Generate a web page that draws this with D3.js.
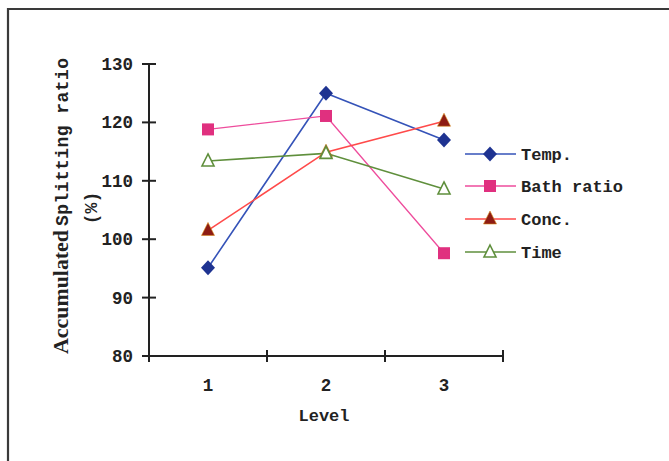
<!DOCTYPE html>
<html><head><meta charset="utf-8">
<script src="https://cdn.jsdelivr.net/npm/d3@7"></script>
<style>
body{margin:0;background:#fff;}
text{font-family:"Liberation Mono",monospace;font-weight:bold;fill:#222;}
</style></head>
<body><svg id="c" width="669" height="461"></svg>
<script>
const levels = ["1","2","3"];
const seriesNames = ["Temp.","Bath ratio","Conc.","Time"];
const temp = [95.1, 125.0, 117.0];
const bath = [118.8, 121.1, 97.6];
const conc = [101.5, 114.9, 120.2];
const time = [113.4, 114.7, 108.6];
const yTicks = [80, 90, 100, 110, 120, 130];
const colors = {line:["#3553b8","#ee4c9c","#ff4a4a","#5f8f3c"], mark:["#1e3391","#e0307f","#8e1c14","#5f8f3c"]};
const shapes = ["diamond","square","triangle","triangleOpen"];
const values = [temp, bath, conc, time];

const svg = d3.select("#c");
svg.append("rect").attr("width",669).attr("height",461).attr("fill","#fff");
svg.append("path").attr("d","M8,461V9H669").attr("fill","none").attr("stroke","#3a3a3a").attr("stroke-width",2.2);

const x = d3.scaleBand().domain(levels).range([149,503]).padding(0);
const y = d3.scaleLinear().domain([80,130]).range([356,64]);
const g = svg.append("g");

// y axis
g.append("line").attr("x1",149).attr("x2",149).attr("y1",y(130)).attr("y2",y(80)).attr("stroke","#222").attr("stroke-width",2);
yTicks.forEach(t=>{
  g.append("line").attr("x1",142).attr("x2",156).attr("y1",y(t)).attr("y2",y(t)).attr("stroke","#222").attr("stroke-width",2);
  g.append("text").attr("x",133).attr("y",y(t)+6).attr("text-anchor","end").attr("font-size",17.5).text(t);
});
// x axis
g.append("line").attr("x1",x.range()[0]).attr("x2",x.range()[1]).attr("y1",356).attr("y2",356).attr("stroke","#222").attr("stroke-width",2);
const edges = levels.map(l=>x(l)).concat([x.range()[1]]);
edges.forEach(e=>{
  g.append("line").attr("x1",e).attr("x2",e).attr("y1",350).attr("y2",362).attr("stroke","#222").attr("stroke-width",2);
});
levels.forEach(l=>{
  g.append("text").attr("x",x(l)+x.bandwidth()/2).attr("y",391).attr("text-anchor","middle").attr("font-size",17.5).text(l);
});
g.append("text").attr("x",324).attr("y",421).attr("text-anchor","middle").attr("font-size",17).text("Level");

// y title
const yt = g.append("text").attr("transform","translate(68,206) rotate(-90)").attr("text-anchor","middle");
yt.append("tspan").attr("font-family","Liberation Serif").attr("font-size",21).attr("textLength",124).attr("lengthAdjust","spacingAndGlyphs").text("Accumulated");
yt.append("tspan").attr("font-size",18).attr("dx",4).attr("textLength",168).text("Splitting ratio");
g.append("text").attr("transform","translate(97,208) rotate(-90)").attr("text-anchor","middle").attr("font-size",18).text("(%)");

function marker(sel, shape, i){
  const c = colors.mark[i];
  if(shape==="diamond") sel.append("path").attr("d","M0,-7.5L7,0L0,7.5L-7,0Z").attr("fill",c);
  else if(shape==="square") sel.append("rect").attr("x",-6).attr("y",-6).attr("width",12).attr("height",12).attr("fill",c);
  else if(shape==="triangle") sel.append("path").attr("d","M0,-8L6.5,5L-6.5,5Z").attr("fill",c).attr("stroke","#d9891a").attr("stroke-width",0.6);
  else sel.append("path").attr("d","M0,-7L6,5L-6,5Z").attr("fill","#fff").attr("stroke",c).attr("stroke-width",1.6);
}

const line = d3.line().x((d,i)=>x(levels[i])+x.bandwidth()/2).y(d=>y(d));
values.forEach((vals,i)=>{
  svg.append("path").attr("d",line(vals)).attr("fill","none").attr("stroke",colors.line[i]).attr("stroke-width",i===1?1.3:1.6);
});
values.forEach((vals,i)=>{
  vals.forEach((v,j)=>{
    const m = svg.append("g").attr("transform",`translate(${x(levels[j])+x.bandwidth()/2},${y(v)})`);
    marker(m, shapes[i], i);
  });
});

// legend
const ly = [154,186,219,252];
seriesNames.forEach((n,i)=>{
  svg.append("line").attr("x1",465).attr("x2",516).attr("y1",ly[i]).attr("y2",ly[i]).attr("stroke",colors.line[i]).attr("stroke-width",1.6);
  const m = svg.append("g").attr("transform",`translate(490,${ly[i]})`);
  marker(m, shapes[i], i);
  svg.append("text").attr("x",521).attr("y",ly[i]+6).attr("font-size",17).text(n);
});
</script></body></html>
